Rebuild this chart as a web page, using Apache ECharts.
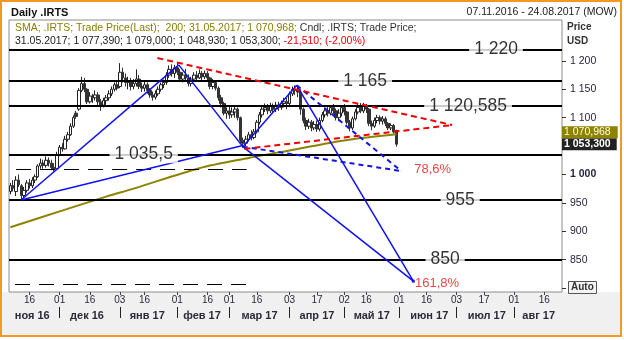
<!DOCTYPE html>
<html><head><meta charset="utf-8">
<script src="https://cdn.jsdelivr.net/npm/echarts@6/dist/echarts.min.js"></script>
<style>
html,body{margin:0;padding:0;background:#fff;width:624px;height:340px;overflow:hidden;}
#frame{position:absolute;left:0;top:0;width:618px;height:333px;border:2px solid #f39a1e;background:linear-gradient(to bottom,#fff 0,#fff 290px,#f0f0f0 290px);}
#chart{position:absolute;left:0;top:0;width:624px;height:340px;}
</style></head><body>
<div id="frame"></div><div id="chart"></div>
<script>
// ---- data ----
const holidays = ['2017-01-02','2017-02-23','2017-03-08','2017-05-01','2017-05-08','2017-05-09','2017-06-12'];
const opens  = [970,980,970,990,980,963,972,985,980,990, 996,1015,1020,1016,1025,1020,1012,1010,1035,1048,
  1045,1062,1070,1085,1108,1115,1148,1160,1150,1128, 1138,1135,1140,1128,1122,1130,1135,1142,1150,1158,
  1155,1180,1170,1162,1165,1155,1160,1168,1155,1152, 1158,1148,1140,1136,1142,1150,1158,1162,1175,1185,
  1178,1188,1180,1168,1175,1170,1160,1168,1175,1170, 1178,1172,1178,1170,1155,1162,1152,1135,1125,1108,
  1112,1105,1110,1115,1100,1060,1055,1062,1070,1065, 1075,1092,1105,1115,1118,1112,1120,1115,1122,1118,
  1125,1128,1125,1142,1150,1148,1145,1115,1095,1085, 1092,1082,1088,1080,1095,1105,1112,1108,1118,1112,
  1100,1108,1118,1110,1092,1082,1098,1110,1118,1112, 1120,1115,1090,1085,1095,1100,1094,1098,1090,1082,
  1086,1077.39];
const closes = [980,976,990,982,963,972,985,980,990,996, 1015,1020,1016,1025,1020,1012,1010,1035,1048,1045,
  1062,1070,1085,1100,1102,1148,1160,1150,1128,1138, 1135,1140,1128,1122,1130,1135,1142,1150,1158,1152,
  1180,1170,1162,1165,1155,1160,1168,1155,1152,1158, 1148,1140,1136,1142,1150,1158,1162,1175,1185,1178,
  1188,1180,1168,1175,1170,1160,1168,1175,1170,1178, 1172,1178,1170,1155,1162,1152,1135,1125,1108,1112,
  1105,1110,1115,1100,1060,1055,1062,1070,1065,1075, 1092,1105,1115,1118,1112,1120,1115,1122,1118,1125,
  1128,1125,1142,1150,1148,1145,1115,1095,1085,1092, 1082,1088,1080,1095,1105,1112,1108,1118,1112,1100,
  1108,1118,1110,1092,1082,1098,1110,1118,1112,1120, 1115,1090,1085,1095,1100,1094,1098,1090,1082,1086,
  1074.81,1053.3];
const lows   = [965,970,962,978,955,958,968,975,976,985, 994,1010,1010,1012,1014,1008,1005,1008,1032,1040,
  1044,1058,1068,1082,1098,1112,1145,1145,1124,1125, 1126,1130,1122,1112,1118,1122,1130,1138,1146,1148,
  1152,1162,1155,1150,1148,1150,1155,1150,1145,1146, 1142,1135,1130,1132,1138,1146,1152,1158,1170,1172,
  1170,1175,1163,1162,1165,1155,1155,1164,1166,1168, 1166,1168,1165,1150,1150,1148,1130,1118,1104,1098,
  1098,1100,1100,1095,1055,1047,1050,1058,1060,1062, 1072,1088,1100,1110,1106,1108,1110,1110,1112,1114,
  1118,1115,1122,1138,1140,1136,1105,1090,1078,1080, 1076,1078,1075,1076,1092,1100,1102,1104,1106,1095,
  1094,1102,1104,1088,1076,1078,1095,1106,1108,1108, 1108,1085,1078,1082,1090,1088,1088,1085,1078,1078,
  1072,1048.93];
const highs  = [985,990,997,1000,983,978,990,992,995,1000, 1018,1028,1026,1032,1030,1026,1020,1040,1052,1055,
  1068,1075,1090,1104,1112,1152,1172,1170,1152,1145, 1142,1148,1145,1133,1135,1140,1148,1155,1162,1165,
  1196,1188,1178,1172,1170,1168,1185,1175,1162,1163, 1162,1152,1146,1148,1155,1162,1167,1180,1192,1194,
  1193,1196,1186,1180,1186,1176,1172,1180,1182,1185, 1182,1183,1182,1172,1168,1166,1155,1140,1128,1118,
  1120,1118,1120,1118,1102,1065,1068,1075,1078,1080, 1096,1110,1122,1125,1124,1126,1125,1128,1128,1130,
  1135,1135,1146,1155,1157,1154,1150,1118,1100,1098, 1096,1094,1095,1100,1110,1118,1120,1122,1124,1116,
  1115,1122,1124,1112,1096,1102,1115,1124,1126,1126, 1124,1117,1095,1100,1105,1104,1103,1102,1092,1090,
  1089,1079];
// SMA(200) readings: [trading-day index, value]
const smaPoints = [[0,907],[20,938],[35,961],[45,975],[69,1011],[87,1029],[105,1045],[116,1055],[128,1064],[141,1070.968]];
const smaLast = 1070.968;
// horizontal levels
const levelValues = [1220, 1165, 1120.585, 1035.5, 955, 850];
const levelNames  = ['1 220','1 165','1 120,585','1 035,5','955','850'];
const levelLabelX = [177.4, 129.6, 167.2, 48.7, 164.3, 158.8];
// dashed black segments
const dashedBlack = [[[2.1,1009],[86.3,1009]],[[1.7,807],[86.3,807]]];
// blue solid trend lines
const blueSolid = [
  [[3.9,955],[61.5,1193]],
  [[61.5,1193],[84.9,1049]],
  [[3.9,955],[84.9,1051]],
  [[84.9,1049],[104.6,1157]],
  [[104.6,1157],[147.2,812]],
  [[84.9,1049],[147.2,812]]
];
const blueDashed = [
  [[104.6,1157],[142.8,1006]],
  [[84.9,1049],[142.8,1006]]
];
const redDashed = [
  [[53.7,1205],[161.4,1087]],
  [[85.5,1045],[161.4,1087]]
];
const fibLabels = [{name:'78,6%', x:147.5, y:1008},{name:'161,8%', x:147.8, y:808}];
const dayTickDates = ['2016-11-16','2016-12-01','2016-12-16','2017-01-03','2017-01-16','2017-02-01','2017-02-16','2017-03-01','2017-03-16','2017-04-03','2017-04-17','2017-05-02','2017-05-16','2017-06-01','2017-06-16','2017-07-03','2017-07-17','2017-08-01','2017-08-16'];
const monthStartDates = ['2016-12-01','2017-01-03','2017-02-01','2017-03-01','2017-04-03','2017-05-02','2017-06-01','2017-07-03','2017-08-01'];
const monthLabelDates = ['2016-11-17','2016-12-15','2017-01-17','2017-02-14','2017-03-17','2017-04-17','2017-05-18','2017-06-19','2017-07-18','2017-08-14'];
const monthLabels = ['ноя 16','дек 16','янв 17','фев 17','мар 17','апр 17','май 17','июн 17','июл 17','авг 17'];
const yTickLabels = [850,900,950,1000,1100,1150,1200];
const yTickMarks = [800,850,900,950,1000,1050,1100,1150,1200];

// ---- categories: trading days ----
const categories = [];
(function(){
  let t = Date.UTC(2016,10,7); const end = Date.UTC(2017,7,24);
  while (t <= end) {
    const d = new Date(t); const wd = d.getUTCDay(); const s = d.toISOString().slice(0,10);
    if (wd !== 0 && wd !== 6 && holidays.indexOf(s) < 0) categories.push(s);
    t += 86400000;
  }
})();
const N = categories.length;
const candleData = opens.map((o,i)=>[o, closes[i], lows[i], highs[i]]);
function fmt(v, dec){
  const s = v.toFixed(dec); const parts = s.split('.');
  const ip = parts[0].replace(/\B(?=(\d{3})+(?!\d))/g,' ');
  return parts.length>1 ? ip + ',' + parts[1] : ip;
}
const daySet = new Set(dayTickDates), mStartSet = new Set(monthStartDates), mLabSet = new Set(monthLabelDates);
const FONT = 'Liberation Sans';
const last = candleData.length-1;
const lastDate = categories[last].split('-').reverse().join('.');
const chg = closes[last]-closes[last-1];
const chgPct = chg/closes[last-1]*100;
const hidden = 'rgba(0,0,0,0)';

const chart = echarts.init(document.getElementById('chart'), null, {renderer:'canvas'});
chart.setOption({
  animation:false,
  backgroundColor:'transparent',
  textStyle:{fontFamily:FONT},
  grid:{left:9,right:62,top:20,bottom:48,show:true,borderColor:'#8c8c8c',borderWidth:1,backgroundColor:'#fff'},
  xAxis:[
    {type:'category',data:categories,boundaryGap:true,axisLine:{show:false,onZero:false},
      axisTick:{show:true,alignWithLabel:true,length:3,interval:(i,v)=>daySet.has(v),lineStyle:{color:'#444'}},
      axisLabel:{interval:(i,v)=>daySet.has(v),formatter:v=>v.slice(8,10),fontSize:10,color:'#2a2a3a',margin:3,fontFamily:FONT},
      splitLine:{show:false}},
    {type:'category',data:categories,boundaryGap:true,position:'bottom',offset:15,axisLine:{show:false,onZero:false},
      axisTick:{show:true,alignWithLabel:true,length:11,interval:(i,v)=>mStartSet.has(v),lineStyle:{color:'#222',width:1}},
      axisLabel:{interval:(i,v)=>mLabSet.has(v),formatter:v=>monthLabels[monthLabelDates.indexOf(v)],fontSize:11,fontWeight:'bold',color:'#2a2a3a',margin:3,fontFamily:FONT},
      splitLine:{show:false}},
    {type:'value',min:-0.5,max:N-0.5,show:false,axisLine:{onZero:false}}
  ],
  yAxis:[{type:'value',position:'right',min:793,max:1272,splitLine:{show:false},axisLine:{show:false,onZero:false},
    axisTick:{show:true,length:4,customValues:yTickMarks,lineStyle:{color:'#333'}},
    axisLabel:{customValues:yTickLabels,margin:8,fontSize:10.5,color:'#26263e',fontFamily:FONT,
      formatter:v=> v===1000 ? '{b|'+fmt(v,0)+'}' : fmt(v,0),
      rich:{b:{fontWeight:'bold',fontSize:10.5,color:'#26263e',fontFamily:FONT}}}}],
  series:[
    {type:'candlestick',xAxisIndex:0,yAxisIndex:0,data:candleData,barWidth:3,z:2,
      itemStyle:{color:'#ffffff',color0:'#333333',borderColor:'#222222',borderColor0:'#333333',borderWidth:1},
      markLine:{silent:true,symbol:'none',lineStyle:{color:hidden,width:1,type:'solid'},
        label:{show:true,position:'end',distance:0,formatter:fmt(closes[last],3),backgroundColor:'#222',color:'#fff',fontWeight:'bold',fontSize:10.5,padding:[1,6,0,2],fontFamily:FONT},
        emphasis:{disabled:true},
        data:[{yAxis:closes[last]}]}},
    {type:'line',xAxisIndex:2,yAxisIndex:0,data:smaPoints,smooth:0.3,symbol:'none',z:3,
      lineStyle:{color:'#8c8400',width:2},
      markLine:{silent:true,symbol:'none',lineStyle:{color:hidden,width:1,type:'solid'},
        label:{show:true,position:'end',distance:0,offset:[0,-2],formatter:fmt(smaLast,3),backgroundColor:'#8c8400',color:'#fffbe0',fontSize:10.5,padding:[1,7,0,2],fontFamily:FONT},
        emphasis:{disabled:true},
        data:[{yAxis:smaLast}]}},
    {type:'lines',coordinateSystem:'cartesian2d',xAxisIndex:2,yAxisIndex:0,z:4,
      data:levelValues.map(v=>({coords:[[-0.5,v],[N-0.5,v]]})),lineStyle:{color:'#000',width:2,opacity:1}},
    {type:'lines',coordinateSystem:'cartesian2d',xAxisIndex:2,yAxisIndex:0,z:4,
      data:dashedBlack.map(c=>({coords:c})),lineStyle:{color:'#000',width:1,type:[15,9],opacity:1}},
    {type:'lines',coordinateSystem:'cartesian2d',xAxisIndex:2,yAxisIndex:0,z:5,
      data:blueSolid.map(c=>({coords:c})),lineStyle:{color:'#1010f0',width:1.5,opacity:1}},
    {type:'lines',coordinateSystem:'cartesian2d',xAxisIndex:2,yAxisIndex:0,z:5,
      data:blueDashed.map(c=>({coords:c})),lineStyle:{color:'#1414e6',width:2,type:[5,4],opacity:1}},
    {type:'lines',coordinateSystem:'cartesian2d',xAxisIndex:2,yAxisIndex:0,z:5,
      data:redDashed.map(c=>({coords:c})),lineStyle:{color:'#f00000',width:2,type:[6,4],opacity:1}},
    {type:'scatter',xAxisIndex:2,yAxisIndex:0,symbolSize:0,z:6,
      data:levelValues.map((v,i)=>({value:[levelLabelX[i],v],name:levelNames[i]})),
      label:{show:true,position:'inside',formatter:p=>p.name,color:'#000',fontSize:17.5,fontFamily:FONT,backgroundColor:'#fff',padding:[0,5]}},
    {type:'scatter',xAxisIndex:2,yAxisIndex:0,symbolSize:0,z:6,
      data:fibLabels.map(f=>({value:[f.x,f.y],name:f.name})),
      label:{show:true,position:'right',distance:0,formatter:p=>p.name,color:'#ee1111',fontSize:13,fontFamily:FONT}},
    {type:'scatter',xAxisIndex:2,yAxisIndex:0,symbol:'rect',symbolSize:3,z:6,itemStyle:{color:'#0000ff'},
      data:[blueSolid[4][1]]}
  ],
  graphic:[
    {type:'text',left:11,top:7,style:{text:'Daily .IRTS',font:'bold 11px '+FONT,fill:'#111'}},
    {type:'text',right:7,top:7,style:{text:'07.11.2016 - 24.08.2017 (MOW)',font:'10.5px '+FONT,fill:'#222'}},
    {type:'text',left:15,top:23,style:{
      text:'{o|SMA; .IRTS; Trade Price(Last);  200; '+lastDate+'; '+fmt(smaLast,3)+'; }{k|Cndl; .IRTS; Trade Price;}',
      rich:{o:{font:'10.5px '+FONT,fill:'#8a7d00'},k:{font:'10.5px '+FONT,fill:'#333'}}}},
    {type:'text',left:15,top:36,style:{
      text:'{k|'+lastDate+'; '+fmt(opens[last],3)+'; '+fmt(highs[last],3)+'; '+fmt(lows[last],3)+'; '+fmt(closes[last],3)+'; }{r|'+fmt(chg,3)+'; ('+fmt(chgPct,2)+'%)}',
      rich:{k:{font:'10.5px '+FONT,fill:'#222'},r:{font:'10.5px '+FONT,fill:'#ee0000'}}}},
    {type:'text',left:567,top:22,style:{text:'Price',font:'bold 10px '+FONT,fill:'#333'}},
    {type:'text',left:567,top:36,style:{text:'USD',font:'bold 10px '+FONT,fill:'#333'}},
    {type:'rect',left:568,top:281,shape:{width:28,height:12},style:{fill:'#f4f4f4',stroke:'#555',lineWidth:1}},
    {type:'text',left:571,top:282,style:{text:'Auto',font:'bold 10px '+FONT,fill:'#333'}}
  ]
});
</script></body></html>
